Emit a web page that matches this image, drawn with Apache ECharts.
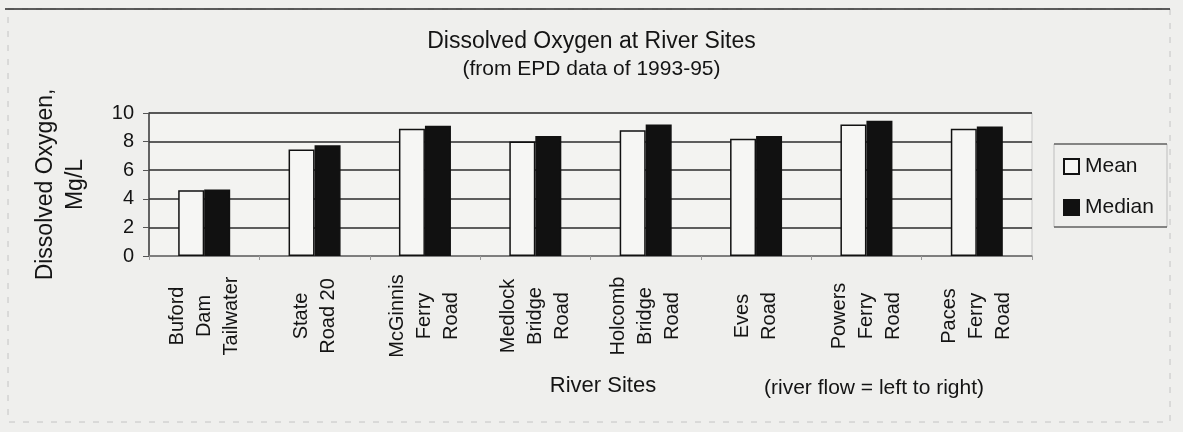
<!DOCTYPE html>
<html>
<head>
<meta charset="utf-8">
<script src="https://cdn.jsdelivr.net/npm/echarts@6/dist/echarts.min.js"></script>
<style>
  html, body { margin: 0; padding: 0; background: #efefed; }
  #chart { width: 1183px; height: 432px; }
</style>
</head>
<body>
<div id="chart"></div>
<script>
// River sites, upstream to downstream
const sites = [
  'Buford\nDam\nTailwater',
  'State\nRoad 20',
  'McGinnis\nFerry\nRoad',
  'Medlock\nBridge\nRoad',
  'Holcomb\nBridge\nRoad',
  'Eves\nRoad',
  'Powers\nFerry\nRoad',
  'Paces\nFerry\nRoad'
];

// Dissolved oxygen, mg/L
const meanDO   = [4.6, 7.45, 8.9, 8.0, 8.8, 8.2, 9.2, 8.9];
const medianDO = [4.65, 7.75, 9.1, 8.4, 9.2, 8.4, 9.45, 9.05];

const yTicks = [0, 2, 4, 6, 8, 10];

const FONT = 'Liberation Sans, Arial, Helvetica, sans-serif';
const INK = '#141414';

const chart = echarts.init(document.getElementById('chart'), null, { renderer: 'canvas' });

chart.setOption({
  backgroundColor: '#efefed',
  animation: false,
  textStyle: { fontFamily: FONT, color: INK },
  title: [
    {
      text: 'Dissolved Oxygen at River Sites',
      left: 'center',
      top: 30,
      padding: 0,
      textStyle: { fontFamily: FONT, fontSize: 23, fontWeight: 'normal', color: INK }
    },
    {
      text: '(from EPD data of 1993-95)',
      left: 'center',
      top: 59,
      padding: 0,
      textStyle: { fontFamily: FONT, fontSize: 21, fontWeight: 'normal', color: INK }
    }
  ],
  legend: {
    orient: 'vertical',
    left: 1063,
    top: 156,
    itemWidth: 15,
    itemHeight: 15,
    itemGap: 20,
    padding: 0,
    icon: 'rect',
    textStyle: { fontFamily: FONT, fontSize: 21, color: INK, padding: [0, 0, 0, 1] },
    data: ['Mean', 'Median']
  },
  grid: {
    left: 149,
    right: 1183 - 1032,
    top: 113,
    bottom: 432 - 256,
    show: true,
    backgroundColor: '#f3f3f1',
    borderColor: '#c9c9c9',
    borderWidth: 1
  },
  xAxis: {
    type: 'category',
    data: sites,
    name: 'River Sites',
    nameLocation: 'middle',
    nameGap: 119,
    nameTextStyle: { fontFamily: FONT, fontSize: 22, color: INK, padding: [0, 0, 0, 25] },
    axisLine: { show: true, lineStyle: { color: '#8a8a8a', width: 1.5 } },
    axisTick: { show: true, length: 4, lineStyle: { color: '#9a9a9a' } },
    axisLabel: {
      interval: 0,
      rotate: 90,
      align: 'center',
      verticalAlign: 'middle',
      margin: 60,
      lineHeight: 27,
      fontFamily: FONT,
      fontSize: 20,
      color: INK
    }
  },
  yAxis: {
    type: 'value',
    min: 0,
    max: 10,
    interval: 2,
    name: 'Dissolved Oxygen,\nMg/L',
    nameLocation: 'middle',
    nameRotate: 90,
    nameGap: 58,
    nameTextStyle: { fontFamily: FONT, fontSize: 23, lineHeight: 30, color: INK },
    axisLine: { show: true, lineStyle: { color: '#3a3a3a', width: 1.5 } },
    axisTick: { show: true, inside: false, length: 6, lineStyle: { color: '#555' } },
    axisLabel: {
      margin: 15,
      fontFamily: FONT,
      fontSize: 20,
      color: INK,
      formatter: v => (yTicks.indexOf(v) >= 0 ? String(v) : '')
    },
    splitLine: { show: true, lineStyle: { color: '#2b2b2b', width: 1.6 } }
  },
  series: [
    {
      name: 'Mean',
      type: 'bar',
      data: meanDO,
      barWidth: 26,
      barGap: '0%',
      itemStyle: { color: '#f6f6f4', borderColor: '#111', borderWidth: 1.5 }
    },
    {
      name: 'Median',
      type: 'bar',
      data: medianDO,
      barWidth: 26,
      barGap: '0%',
      itemStyle: { color: '#111', borderColor: '#111', borderWidth: 1.5 }
    }
  ],
  graphic: [
    // outer frame of the figure
    { type: 'rect', silent: true, shape: { x: 8, y: 9, width: 1162, height: 413 },
      style: { fill: 'none', stroke: '#c4c4c4', lineWidth: 1, lineDash: [6, 8] } },
    { type: 'line', silent: true, shape: { x1: 5, y1: 9, x2: 1170, y2: 9 },
      style: { stroke: '#2a2a2a', lineWidth: 1.5 } },
    // legend frame
    { type: 'rect', silent: true, shape: { x: 1054, y: 144, width: 113, height: 83 },
      style: { fill: 'none', stroke: '#bdbdbd', lineWidth: 1 } },
    { type: 'line', silent: true, shape: { x1: 1054, y1: 144, x2: 1167, y2: 144 },
      style: { stroke: '#333', lineWidth: 1.2 } },
    { type: 'line', silent: true, shape: { x1: 1054, y1: 227, x2: 1167, y2: 227 },
      style: { stroke: '#333', lineWidth: 1.2 } },
    // flow direction note beside the axis title
    { type: 'text', silent: true, x: 874, y: 388,
      style: { text: '(river flow = left to right)', font: '21px ' + FONT, fill: INK,
               align: 'center', verticalAlign: 'middle' } }
  ]
});
</script>
</body>
</html>
